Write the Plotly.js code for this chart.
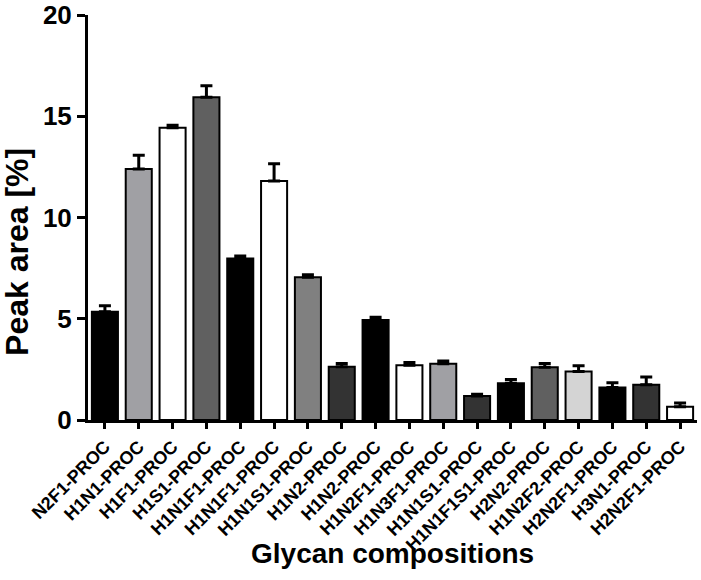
<!DOCTYPE html>
<html>
<head>
<meta charset="utf-8">
<script src="https://cdn.plot.ly/plotly-3.0.1.min.js"></script>
<style>
  body { margin: 0; background: white; }
  #graph { width: 701px; height: 580px; }
</style>
</head>
<body>
<div id="graph"></div>
<script>
// dados do gráfico
const glycans = [
    'N2F1-PROC', 'H1N1-PROC', 'H1F1-PROC', 'H1S1-PROC', 'H1N1F1-PROC', 'H1N1F1-PROC',
    'H1N1S1-PROC', 'H1N2-PROC', 'H1N2-PROC', 'H1N2F1-PROC', 'H1N3F1-PROC', 'H1N1S1-PROC',
    'H1N1F1S1-PROC', 'H2N2-PROC', 'H1N2F2-PROC', 'H2N2F1-PROC', 'H3N1-PROC', 'H2N2F1-PROC'
];
const peakArea = [5.35, 12.4, 14.43, 15.94, 7.98, 11.8, 7.05, 2.63, 4.94, 2.7, 2.78, 1.19, 1.81, 2.6, 2.39, 1.6, 1.74, 0.66];
const sem = [0.29, 0.68, 0.13, 0.57, 0.12, 0.85, 0.12, 0.16, 0.14, 0.14, 0.13, 0.08, 0.19, 0.19, 0.29, 0.24, 0.38, 0.18];

// cores das barras
const barColors = [
    '#000000', '#a0a0a4', '#ffffff', '#606060', '#000000', '#ffffff',
    '#808080', '#333333', '#000000', '#ffffff', '#a0a0a4', '#333333',
    '#000000', '#606060', '#d4d4d4', '#000000', '#333333', '#ffffff'
];

const xPos = glycans.map((_, i) => i); // nomes repetidos, então eixo numérico

const font = { family: 'Liberation Sans, Arial, sans-serif', color: '#000', weight: 'bold' };

const trace = {
    type: 'bar',
    x: xPos,
    y: peakArea,
    width: 0.77,
    marker: { color: barColors, line: { color: '#000', width: 2 } },
    error_y: {
        type: 'data',
        symmetric: false,
        array: sem,
        arrayminus: sem.map(() => 0),
        color: '#000',
        thickness: 3,
        width: 6
    },
    hoverinfo: 'none'
};

const layout = {
    width: 701,
    height: 580,
    margin: { l: 88, r: 4, t: 15, b: 160 },
    paper_bgcolor: 'white',
    plot_bgcolor: 'white',
    showlegend: false,
    font: font,
    xaxis: {
        range: [-0.5, 17.5],
        tickmode: 'array',
        tickvals: xPos,
        ticktext: glycans,
        tickangle: -45,
        tickfont: Object.assign({}, font, { size: 18 }),
        showline: true,
        linecolor: '#000',
        linewidth: 3,
        ticks: 'outside',
        ticklen: 6,
        tickwidth: 3,
        tickcolor: '#000',
        showgrid: false,
        zeroline: false
    },
    yaxis: {
        range: [0, 20],
        dtick: 5,
        tickfont: Object.assign({}, font, { size: 26 }),
        showline: true,
        linecolor: '#000',
        linewidth: 3,
        ticks: 'outside',
        ticklen: 8,
        tickwidth: 3,
        tickcolor: '#000',
        showgrid: false,
        zeroline: false
    },
    annotations: [
        {
            text: 'Peak area [%]',
            xref: 'paper', yref: 'paper',
            x: -0.1166, y: 0.415,
            xanchor: 'center', yanchor: 'middle',
            textangle: -90,
            showarrow: false,
            font: Object.assign({}, font, { size: 32 })
        },
        {
            text: 'Glycan compositions',
            xref: 'paper', yref: 'paper',
            x: 0.5, y: -0.33,
            xanchor: 'center', yanchor: 'middle',
            showarrow: false,
            font: Object.assign({}, font, { size: 28 })
        }
    ]
};

Plotly.newPlot('graph', [trace], layout, { staticPlot: true });
</script>
</body>
</html>
